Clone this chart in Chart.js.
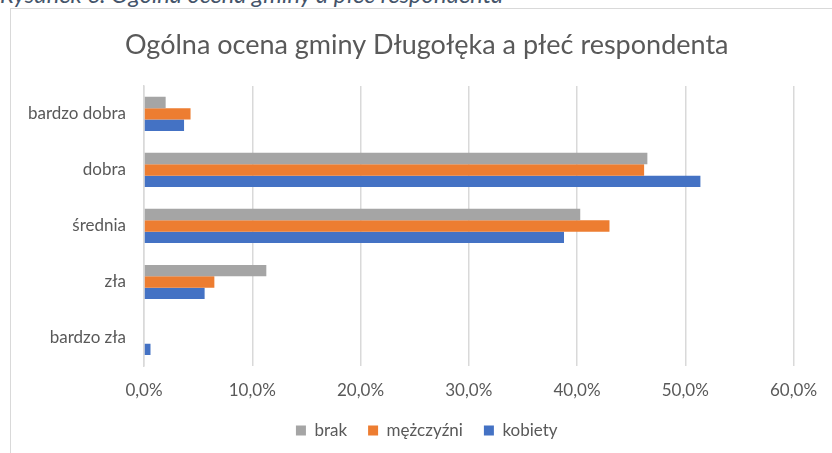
<!DOCTYPE html>
<html>
<head>
<meta charset="utf-8">
<script src="https://cdn.jsdelivr.net/npm/chart.js@4/dist/chart.umd.min.js"></script>
<style>
  html, body { margin: 0; padding: 0; background: #fff; overflow: hidden; width: 832px; height: 453px; }
  #caption { position: absolute; left: 0px; top: -17px; font: italic 23.7px Lato, sans-serif; line-height: 1; color: #44546A; white-space: nowrap; }
  #box { position: absolute; left: 10px; top: 8px; width: 840px; height: 472px; border-left: 1.5px solid #d9d9d9; border-top: 1.5px solid #d9d9d9; box-sizing: border-box; }
  #c { position: absolute; left: 11.5px; top: 9.5px; display: block; }
</style>
</head>
<body>
<div id="caption">Rysunek 6. Ogólna ocena gminy a płeć respondenta</div>
<div id="box"></div>
<canvas id="c" width="820" height="470"></canvas>
<script>
const titleText = 'Ogólna ocena gminy Długołęka a płeć respondenta';
const categories = ['bardzo dobra', 'dobra', 'średnia', 'zła', 'bardzo zła'];
const seriesNames = ['brak', 'mężczyźni', 'kobiety'];
const brak = [2.0, 46.5, 40.3, 11.3, 0];
const mezczyzni = [4.3, 46.2, 43.0, 6.5, 0];
const kobiety = [3.7, 51.4, 38.8, 5.6, 0.6];
const xTicks = [0, 10, 20, 30, 40, 50, 60];
const colors = ['#A5A5A5', '#ED7D31', '#4472C4'];
const textColor = '#595959';

const fmt = v => v.toFixed(1).replace('.', ',') + '%';

// let the category labels extend into the left padding without being clipped
const unclipY = {
  id: 'unclipY',
  afterLayout(chart) { chart.scales.y.left = 0; }
};

new Chart(document.getElementById('c'), {
  type: 'bar',
  data: {
    labels: categories,
    datasets: [brak, mezczyzni, kobiety].map((d, i) => ({
      label: seriesNames[i],
      data: d,
      backgroundColor: colors[i],
      borderWidth: 0,
      categoryPercentage: 0.61,
      barPercentage: 1.0
    }))
  },
  plugins: [unclipY],
  options: {
    indexAxis: 'y',
    responsive: false,
    animation: false,
    layout: { padding: { left: 48, right: 38.5, top: 0, bottom: 31 } },
    plugins: {
      title: {
        display: true,
        text: titleText,
        color: textColor,
        font: { family: 'Lato', size: 27, weight: 'normal' },
        padding: { top: 19, bottom: 24.5 }
      },
      legend: {
        position: 'bottom',
        labels: {
          color: textColor,
          font: { family: 'Lato', size: 17 },
          boxWidth: 10,
          boxHeight: 10,
          padding: 21
        }
      },
      tooltip: { enabled: false }
    },
    scales: {
      x: {
        min: 0, max: 60,
        afterBuildTicks: s => { s.ticks = xTicks.map(v => ({ value: v })); },
        afterFit: s => { s.height = 35; },
        ticks: { color: textColor, font: { family: 'Lato', size: 17 }, padding: 14.5, callback: v => fmt(v) },
        grid: { color: '#d9d9d9', lineWidth: 1.5, drawTicks: false },
        border: { display: false }
      },
      y: {
        afterFit: s => { s.width = 84; },
        ticks: { color: textColor, font: { family: 'Lato', size: 17 }, padding: 18 },
        grid: { display: false, drawTicks: false },
        border: { display: true, color: '#d9d9d9', width: 1.5 }
      }
    }
  }
});
</script>
</body>
</html>
